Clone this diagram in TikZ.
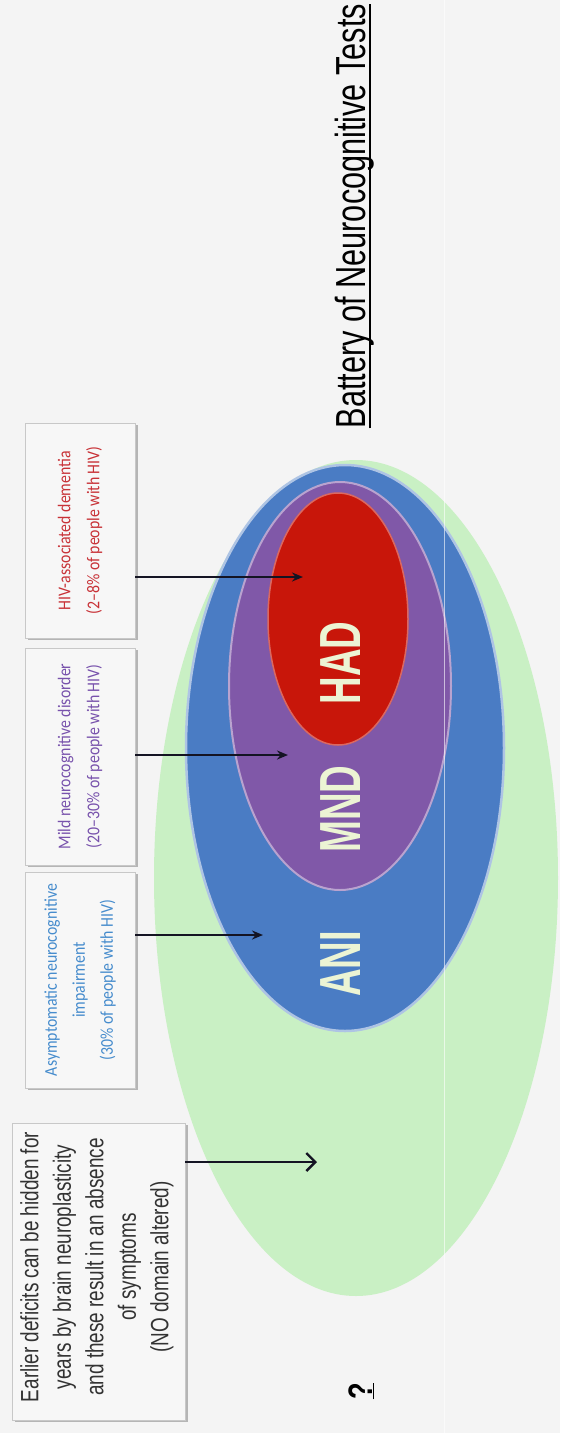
\documentclass[tikz,border=0pt]{standalone}
\usepackage{fontspec}
\setmainfont{Liberation Sans}
\newfontfamily\calib{Carlito}
\usetikzlibrary{arrows.meta,shapes.geometric,shadows}
\definecolor{bgc}{RGB}{244,244,244}
\definecolor{greenc}{RGB}{201,240,196}
\definecolor{bluec}{RGB}{74,124,196}
\definecolor{purplec}{RGB}{128,88,168}
\definecolor{redc}{RGB}{200,22,10}
\definecolor{labelc}{RGB}{236,244,212}
\definecolor{hadtxt}{RGB}{200,50,55}
\definecolor{mndtxt}{RGB}{120,82,172}
\definecolor{anitxt}{RGB}{70,140,205}
\definecolor{boxfill}{RGB}{247,247,247}
\definecolor{boxline}{RGB}{200,200,200}
\definecolor{arrc}{RGB}{20,20,35}
\begin{document}
\begin{tikzpicture}[x=1pt,y=-1pt,
  zone/.style={ellipse, inner sep=0pt},
  infobox/.style={rectangle, fill=boxfill, draw=boxline, line width=0.8pt, inner sep=0pt,
    drop shadow={shadow xshift=2.5pt, shadow yshift=-2pt, fill=black!45, opacity=0.6}},
  smalltxt/.style={rotate=90, xscale=0.88, align=center, inner sep=0pt,
    font=\calib\fontsize{18}{29}\selectfont},
  bigtxt/.style={rotate=90, xscale=0.66, inner sep=0pt, text=labelc,
    font=\bfseries\fontsize{58}{58}\selectfont},
  thinarr/.style={draw=arrc, line width=2.2pt, -{Stealth[length=11pt,width=9pt]}},
  openarr/.style={draw=arrc, line width=2.4pt, -{Straight Barb[length=9pt,width=18pt]}}
]
\fill[bgc] (0,0) rectangle (560,1433);
\useasboundingbox (0,0) rectangle (560,1433);

% nested zones
\node[zone, fill=greenc, minimum width=404pt, minimum height=836pt] (greenz) at (356,878) {};
\node[zone, fill=bluec, draw=white!55!bluec, line width=2.5pt, minimum width=318pt, minimum height=566pt] (bluez) at (345,748) {};
\node[zone, fill=purplec, draw=white!45!purplec, line width=2pt, minimum width=222pt, minimum height=408pt] (purplez) at (340,686) {};
\node[zone, fill=redc, draw=white!35!redc, line width=1.5pt, minimum width=140pt, minimum height=252pt] (redz) at (338,619) {};

% big labels
\node[bigtxt] (had) at (341,663) {HAD};
\node[bigtxt] (mnd) at (341,809) {MND};
\node[bigtxt] (ani) at (341,964) {ANI};

% title
\node[rotate=90, xscale=0.73, anchor=base, inner sep=0pt, font=\fontsize{42}{42}\selectfont] (title) at (365,216) {Battery of Neurocognitive Tests};
\draw[line width=2pt] ([xshift=5pt]title.base west) -- ([xshift=5pt]title.base east);

% info boxes
\node[infobox, minimum width=110pt, minimum height=215pt] (hadbox) at (80,530.5) {};
\node[infobox, minimum width=110pt, minimum height=217pt] (mndbox) at (80,756.5) {};
\node[infobox, minimum width=110pt, minimum height=216pt] (anibox) at (80,980) {};
\node[infobox, minimum width=173pt, minimum height=297pt] (earlybox) at (98.5,1271.5) {};

\node[smalltxt, text=hadtxt] (hadlbl) at (hadbox.center) {HIV-associated dementia\\(2–8\% of people with HIV)};
\node[smalltxt, text=mndtxt] (mndlbl) at (mndbox.center) {Mild neurocognitive disorder\\(20–30\% of people with HIV)};
\node[smalltxt, text=anitxt, font=\calib\fontsize{18}{28}\selectfont] (anilbl) at (anibox.center) {Asymptomatic neurocognitive\\impairment\\(30\% of people with HIV)};
\node[rotate=90, xscale=0.756, align=center, inner sep=0pt, text=black!80,
  font=\fontsize{25}{32.5}\selectfont] (earlylbl) at (97,1267) {Earlier deficits can be hidden for\\years by brain neuroplasticity\\and these result in an absence\\of symptoms\\(NO domain altered)};

% arrow tips
\coordinate (hadtip) at (303,577);
\coordinate (mndtip) at (288,755);
\coordinate (anitip) at (263,935);
\coordinate (greentip) at (317,1162);

\draw[thinarr] (hadbox.east |- hadtip) -- (hadtip);
\draw[thinarr] (mndbox.east |- mndtip) -- (mndtip);
\draw[thinarr] (anibox.east |- anitip) -- (anitip);
\draw[openarr] (earlybox.east |- greentip) -- (greentip);

% question mark
\node[rotate=90, xscale=0.8, anchor=base, inner sep=0pt, font=\bfseries\fontsize{34}{34}\selectfont] (qmark) at (372,1391) {\underline{?}};

% faint seam line
\draw[white, opacity=0.6, line width=1pt] (444,0) -- (444,1433);
\end{tikzpicture}
\end{document}
